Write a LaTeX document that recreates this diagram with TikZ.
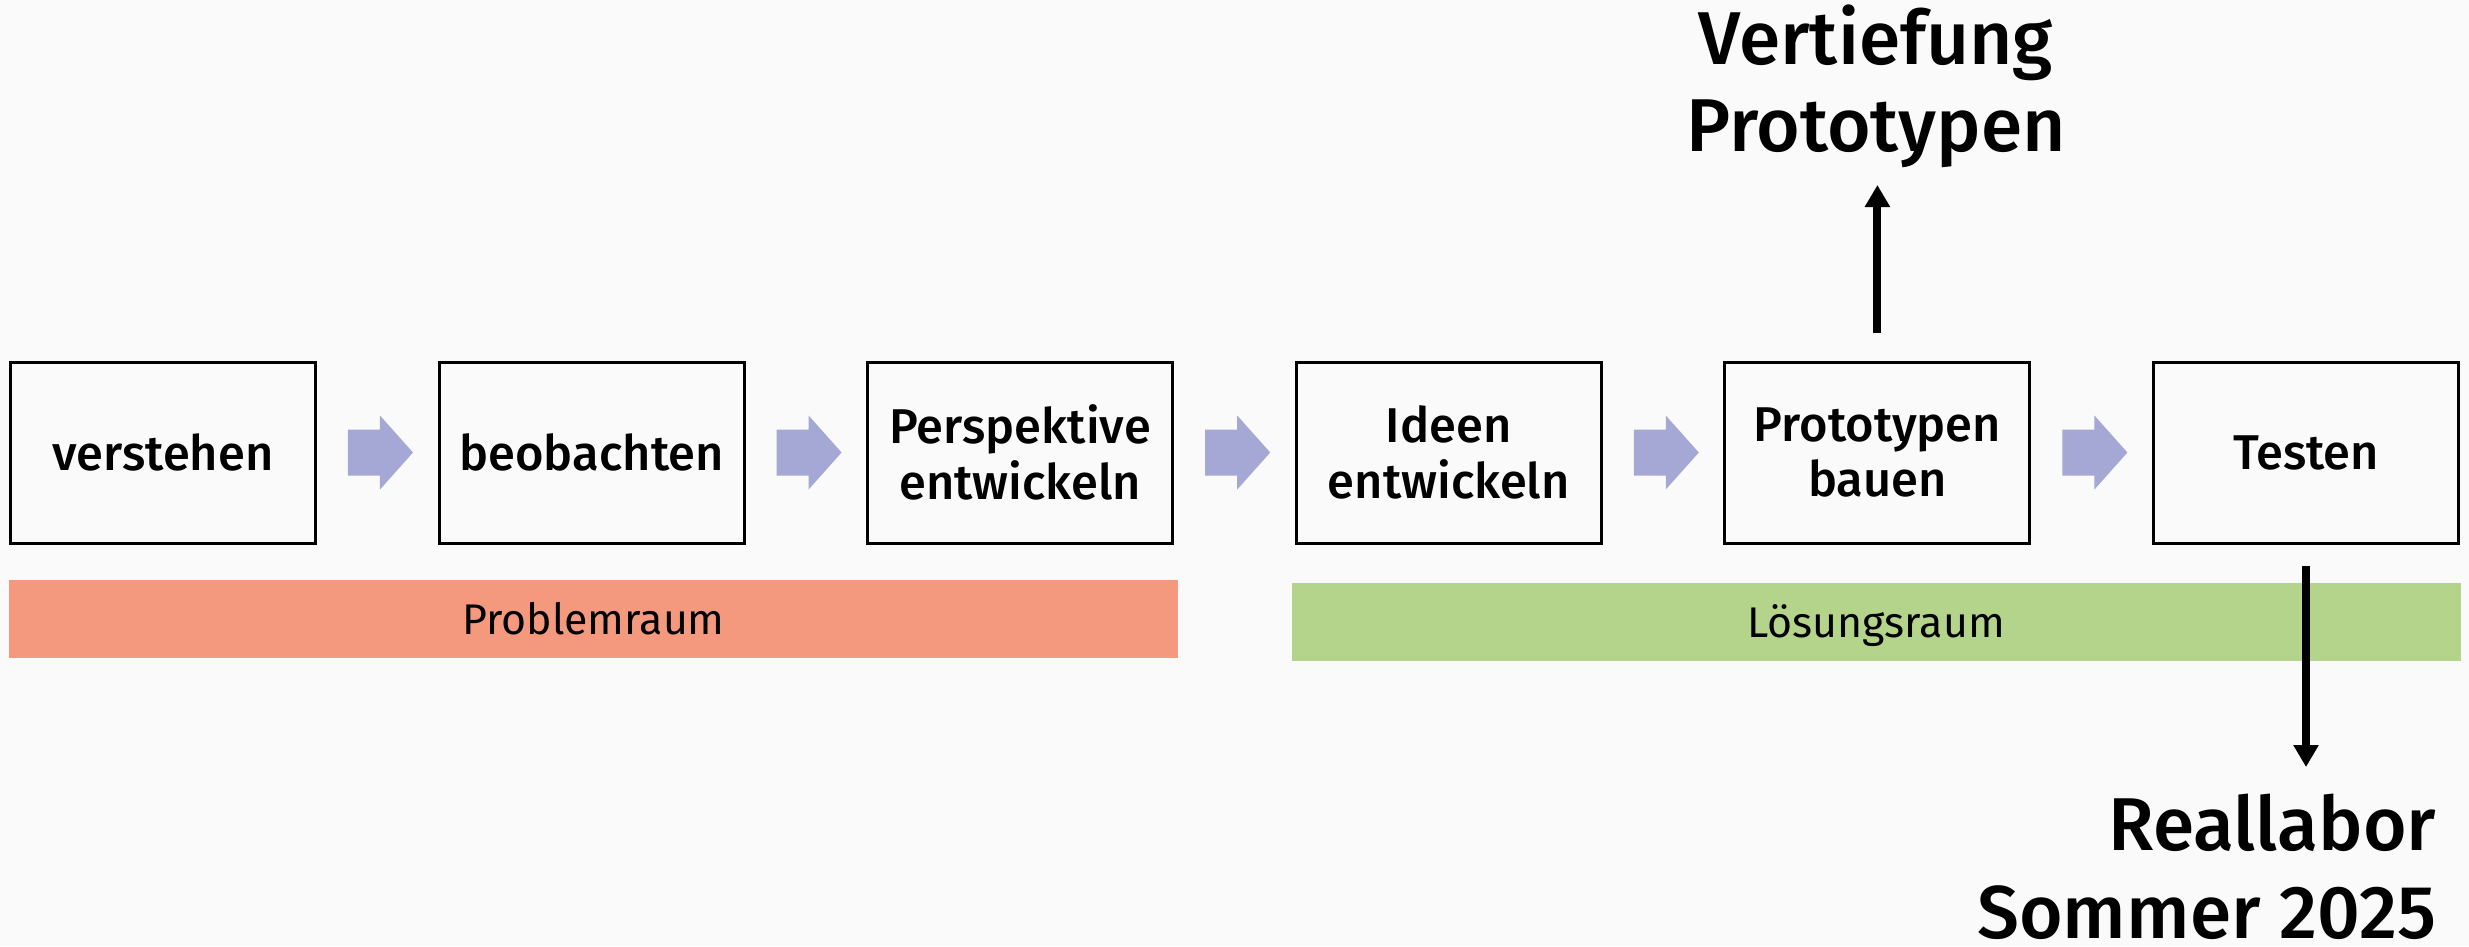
\documentclass[tikz,border=0pt]{standalone}
\usepackage{fontspec}
\setmainfont{Fira Sans}
\newfontfamily\medfont{Fira Sans}[UprightFont={* Medium}]
\usetikzlibrary{calc,arrows.meta}
\definecolor{bgcol}{HTML}{FAFAFA}
\definecolor{probcol}{HTML}{F4997E}
\definecolor{solcol}{HTML}{B5D48B}
\definecolor{flowcol}{HTML}{A5A8D4}
\begin{document}
\begin{tikzpicture}[x=0.1mm,y=-0.1mm,
  stepbox/.style={draw=black, line width=0.85pt, fill=bgcol, minimum width=30.5mm, minimum height=18.1mm,
    inner sep=0pt, align=center, font=\medfont\fontsize{13.9}{15.9}\selectfont},
  band/.style={inner sep=0pt, minimum width=116.9mm, minimum height=7.8mm, text height=3mm, text depth=0mm,
    font=\fontsize{12.2}{14}\selectfont},
  flow/.style={fill=flowcol},
  conn/.style={line width=2.3pt, -{Triangle[width=2.4mm,length=2.2mm]}},
  bigtext/.style={inner sep=0pt, font=\medfont\fontsize{21.3}{25}\selectfont}
]
\fill[bgcol] (0,0) rectangle (2469,946);
\useasboundingbox (0,0) rectangle (2469,946);

\node[stepbox] (b1) at (163,452.5) {verstehen};
\node[stepbox] (b2) at (591.6,452.5) {beobachten};
\node[stepbox] (b3) at (1020.2,452.5) {Perspektive\\entwickeln};
\node[stepbox] (b4) at (1448.8,452.5) {Ideen\\entwickeln};
\node[stepbox] (b5) at (1877.4,452.5) {Prototypen\\bauen};
\node[stepbox] (b6) at (2306,452.5) {Testen};

\foreach \a/\b in {b1/b2,b2/b3,b3/b4,b4/b5,b5/b6}{
  \fill[flow] ($(\a.east)+(31,-23)$) -- ++(32,0) -- ++(0,-14) -- ++(33,37) -- ++(-33,37) -- ++(0,-14) -- ++(-32,0) -- cycle;
}

\node[band, fill=probcol] (pr) at (593.5,619) {Problemraum};
\node[band, fill=solcol] (lr) at (1876,622) {Lösungsraum};

\node[bigtext, align=center, anchor=south] (vt) at (1876,169) {Vertiefung\\Prototypen};
\node[bigtext, align=right, anchor=north east] (rl) at (2437,793) {Reallabor\\Sommer 2025};

\draw[conn, shorten <=2.75mm, shorten >=1.6mm] (b5.north) -- (b5.north |- vt.south);
\draw[conn, shorten <=2.1mm, shorten >=2.6mm] (b6.south) -- (b6.south |- rl.north);
\end{tikzpicture}
\end{document}
